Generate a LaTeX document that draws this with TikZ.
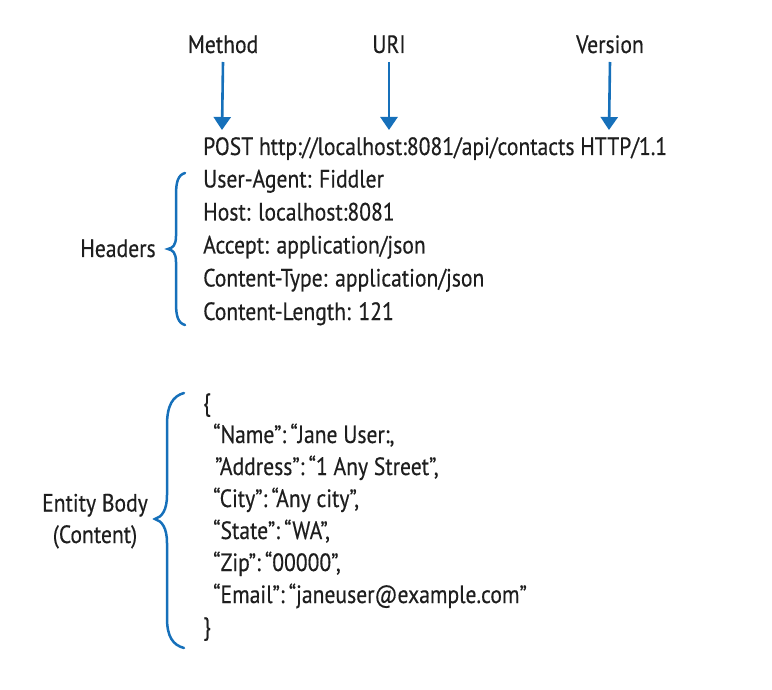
\documentclass[tikz,border=0pt]{standalone}
\usepackage{fontspec}
\setmainfont{PT Sans}[FakeStretch=0.865,FakeBold=0.4]
\usetikzlibrary{arrows.meta}
\definecolor{hblue}{RGB}{22,112,186}
\definecolor{htext}{RGB}{30,30,30}
\tikzset{
  txt/.style={inner sep=0pt, anchor=base west, text=htext, font=\fontsize{25}{30}\selectfont},
  lbl/.style={inner sep=0pt, anchor=base, text=htext, font=\fontsize{25}{30}\selectfont},
  arr/.style={draw=hblue, line width=2.6pt, -{Triangle[width=17pt,length=13pt]}},
  brace/.style={draw=hblue, line width=2.5pt, line cap=round}
}
\begin{document}
\begin{tikzpicture}[x=1pt,y=-1pt]
\useasboundingbox (0,0) rectangle (772,690);
% top labels
\node[lbl] (method) at (223,53) {Method};
\node[lbl] (uri) at (389,53) {URI};
\node[lbl] (version) at (610,53) {Version};
% request line and headers
\node[txt] (req) at (203,155) {POST http://localhost:8081/api/contacts HTTP/1.1};
\node[txt] (h1) at (203,187.5) {User-Agent: Fiddler};
\node[txt] (h2) at (203,220.5) {Host: localhost:8081};
\node[txt] (h3) at (203,253.5) {Accept: application/json};
\node[txt] (h4) at (203,286.5) {Content-Type: application/json};
\node[txt] (h5) at (203,320) {Content-Length: 121};
% body
\node[txt] (b0) at (203,411) {\{};
\node[txt] (b1) at (213,443) {“Name”:\,“Jane User:,};
\node[txt] (b2) at (215,475) {”Address”:\,“1 Any Street”,};
\node[txt] (b3) at (213,507) {“City”:\,“Any city”,};
\node[txt] (b4) at (213,539) {“State”:\,“WA”,};
\node[txt] (b5) at (213,571) {“Zip”:\,“00000”,};
\node[txt] (b6) at (213,603) {“Email”:\,“janeuser@example.com”};
\node[txt] (b7) at (203,635) {\}};
% side labels
\node[lbl] (headers) at (118,257) {Headers};
\node[lbl] (entity) at (95,511.5) {Entity Body};
\node[lbl] (content) at (95,543) {(Content)};
% arrows
\coordinate (mtip) at (222,130);
\coordinate (utip) at (389,130);
\coordinate (vtip) at (609,130);
\draw[arr] ([yshift=-9pt]method.base) -- (mtip);
\draw[arr] ([yshift=-9pt]uri.base) -- (utip);
\draw[arr] ([yshift=-9pt]version.base) -- (vtip);
% braces
\draw[brace] (185,173) .. controls (178,175) and (176,182) .. (176,195)
  -- (176,236) .. controls (176,245) and (173,248) .. (168,249)
  .. controls (173,250) and (176,253) .. (176,262)
  -- (176,303) .. controls (176,316) and (178,323) .. (185,325);
\draw[brace] (184,393) .. controls (173,396) and (167,405) .. (167,425)
  -- (167,495) .. controls (167,510) and (162,517) .. (155,519)
  .. controls (162,521) and (167,528) .. (167,543)
  -- (167,618) .. controls (167,637) and (173,645) .. (184,648);
\end{tikzpicture}
\end{document}
